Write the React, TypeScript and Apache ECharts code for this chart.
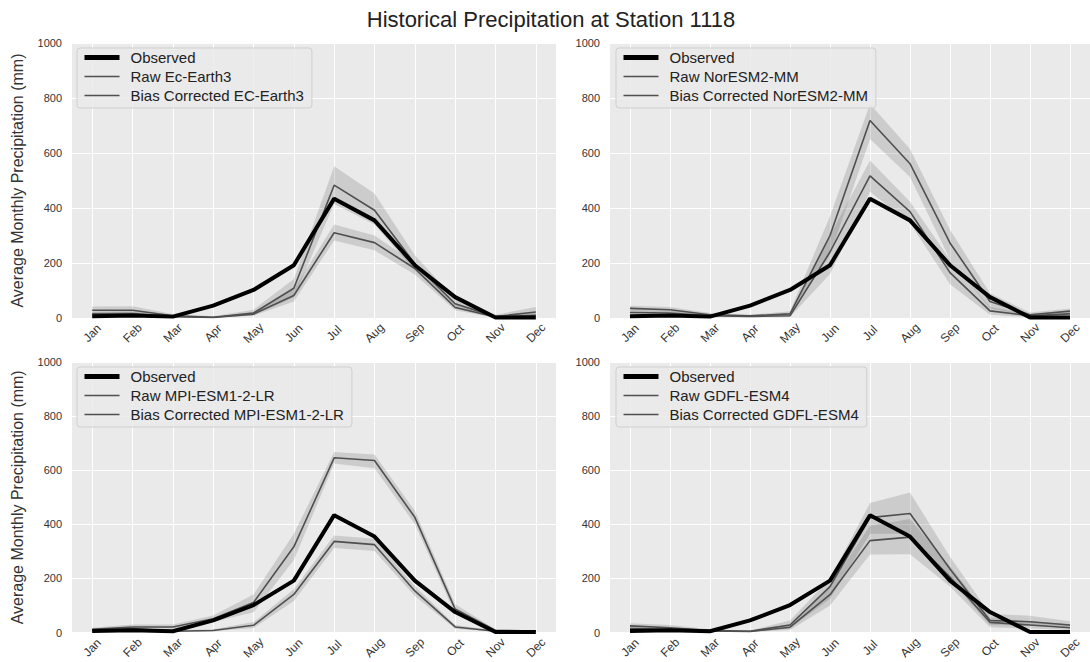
import React, { useEffect, useRef } from 'react';
import * as echarts from 'echarts';

const months = ['Jan', 'Feb', 'Mar', 'Apr', 'May', 'Jun', 'Jul', 'Aug', 'Sep', 'Oct', 'Nov', 'Dec'];
const yTicks = [0, 200, 400, 600, 800, 1000];
const chartTitle = 'Historical Precipitation at Station 1118';
const yTitle = 'Average Monthly Precipitation (mm)';

const observed = [6, 9, 5, 45, 102, 192, 434, 355, 192, 76, 2, 2];

// Panel 1: EC-Earth3
const rawEC = [28, 28, 8, 3, 18, 108, 483, 392, 197, 52, 5, 22];
const rawECLow = [18, 18, 3, 1, 10, 75, 415, 340, 172, 38, 2, 10];
const rawECHigh = [42, 43, 15, 6, 30, 142, 552, 453, 228, 68, 12, 40];
const biasEC = [15, 16, 5, 2, 14, 82, 310, 274, 180, 38, 4, 10];
const biasECLow = [8, 9, 2, 1, 8, 60, 282, 246, 158, 28, 1, 5];
const biasECHigh = [22, 24, 9, 4, 22, 105, 340, 300, 200, 50, 8, 18];

// Panel 2: NorESM2-MM
const rawNor = [35, 30, 12, 8, 15, 300, 718, 561, 273, 60, 12, 25];
const rawNorLow = [25, 22, 6, 4, 8, 230, 651, 513, 213, 35, 6, 15];
const rawNorHigh = [45, 40, 18, 12, 25, 370, 778, 615, 321, 90, 20, 35];
const biasNor = [20, 18, 8, 6, 8, 240, 517, 387, 165, 26, 8, 15];
const biasNorLow = [14, 12, 4, 3, 4, 160, 459, 345, 123, 12, 3, 8];
const biasNorHigh = [28, 26, 12, 10, 14, 300, 573, 423, 213, 40, 14, 22];

// Panel 3: MPI-ESM1-2-LR
const rawMPI = [12, 21, 21, 51, 111, 317, 646, 636, 426, 87, 8, 6];
const rawMPILow = [8, 15, 14, 39, 75, 268, 625, 607, 401, 69, 4, 3];
const rawMPIHigh = [18, 30, 30, 63, 141, 365, 667, 658, 450, 105, 12, 9];
const biasMPI = [8, 15, 5, 8, 27, 141, 337, 325, 154, 21, 5, 5];
const biasMPILow = [5, 10, 3, 5, 17, 117, 313, 302, 135, 14, 3, 3];
const biasMPIHigh = [12, 20, 8, 12, 39, 160, 359, 347, 172, 28, 8, 8];

// Panel 4: GDFL-ESM4
const rawGD = [25, 18, 8, 5, 28, 170, 425, 440, 235, 45, 40, 28];
const rawGDLow = [15, 10, 4, 2, 15, 125, 365, 365, 195, 28, 25, 18];
const rawGDHigh = [35, 28, 12, 8, 45, 200, 479, 518, 280, 70, 62, 42];
const biasGD = [15, 12, 6, 4, 20, 140, 340, 353, 205, 38, 28, 18];
const biasGDLow = [8, 7, 3, 2, 10, 100, 289, 290, 170, 20, 15, 10];
const biasGDHigh = [24, 18, 10, 7, 32, 172, 395, 420, 245, 55, 42, 30];

const rawNames = ['Raw Ec-Earth3', 'Raw NorESM2-MM', 'Raw MPI-ESM1-2-LR', 'Raw GDFL-ESM4'];
const biasNames = [
  'Bias Corrected EC-Earth3',
  'Bias Corrected NorESM2-MM',
  'Bias Corrected MPI-ESM1-2-LR',
  'Bias Corrected GDFL-ESM4',
];

const panels = [
  { raw: rawEC, rawLow: rawECLow, rawHigh: rawECHigh, bias: biasEC, biasLow: biasECLow, biasHigh: biasECHigh },
  { raw: rawNor, rawLow: rawNorLow, rawHigh: rawNorHigh, bias: biasNor, biasLow: biasNorLow, biasHigh: biasNorHigh },
  { raw: rawMPI, rawLow: rawMPILow, rawHigh: rawMPIHigh, bias: biasMPI, biasLow: biasMPILow, biasHigh: biasMPIHigh },
  { raw: rawGD, rawLow: rawGDLow, rawHigh: rawGDHigh, bias: biasGD, biasLow: biasGDLow, biasHigh: biasGDHigh },
];

const FONT = 'Liberation Sans, Arial, Helvetica, sans-serif';
const gridBoxes = [
  { left: 72, top: 43, width: 484, height: 275 },
  { left: 610, top: 43, width: 482, height: 275 },
  { left: 72, top: 362, width: 484, height: 276 },
  { left: 610, top: 362, width: 482, height: 276 },
];
const legendPos = [
  { left: 77, top: 48 },
  { left: 616, top: 48 },
  { left: 77, top: 367 },
  { left: 616, top: 367 },
];

const BAND = 'rgba(70,70,70,0.26)';
const LINE = '#4f4f4f';
const HIDDEN_ITEM = { color: 'rgba(0,0,0,0)', borderWidth: 0, opacity: 0 };

function buildOption() {
  const grid = gridBoxes.map((g) => ({
    ...g,
    show: true,
    backgroundColor: '#EAEAEA',
    borderWidth: 0,
    containLabel: false,
  }));

  const xAxis = gridBoxes.map((_, i) => ({
    type: 'category',
    gridIndex: i,
    data: months,
    boundaryGap: true,
    axisLine: { show: false },
    axisTick: { show: false },
    axisLabel: {
      rotate: 45,
      align: 'center',
      verticalAlign: 'middle',
      margin: 15,
      fontSize: 12,
      color: '#333',
      fontFamily: FONT,
      interval: 0,
    },
    splitLine: { show: true, alignWithLabel: true, lineStyle: { color: '#ffffff', width: 1 } },
  }));

  const yAxis = gridBoxes.map((_, i) => ({
    type: 'value',
    gridIndex: i,
    min: yTicks[0],
    max: yTicks[yTicks.length - 1],
    interval: yTicks[1] - yTicks[0],
    axisLine: { show: false },
    axisTick: { show: false },
    axisLabel: {
      fontSize: 11,
      color: '#333',
      margin: 10,
      fontFamily: FONT,
      formatter: (v: number) => String(v),
    },
    splitLine: { show: true, lineStyle: { color: '#ffffff', width: 1 } },
    name: i % 2 === 0 ? yTitle : '',
    nameLocation: 'middle',
    nameGap: 47,
    nameTextStyle: { fontSize: 16, color: '#333', fontFamily: FONT },
  }));

  const series: any[] = [];
  panels.forEach((p, i) => {
    const bands = [
      { key: 'raw', low: p.rawLow, high: p.rawHigh },
      { key: 'bias', low: p.biasLow, high: p.biasHigh },
    ];
    bands.forEach((b) => {
      const stack = `band-${b.key}-${i}`;
      series.push({
        type: 'line',
        name: `${stack}-low`,
        xAxisIndex: i,
        yAxisIndex: i,
        data: b.low,
        stack,
        symbol: 'none',
        lineStyle: { opacity: 0 },
        silent: true,
        z: 1,
      });
      series.push({
        type: 'line',
        name: `${stack}-span`,
        xAxisIndex: i,
        yAxisIndex: i,
        data: b.high.map((h, k) => h - b.low[k]),
        stack,
        symbol: 'none',
        lineStyle: { opacity: 0 },
        areaStyle: { color: BAND },
        silent: true,
        z: 1,
      });
    });
    series.push({
      type: 'line',
      name: rawNames[i],
      xAxisIndex: i,
      yAxisIndex: i,
      data: p.raw,
      symbol: 'none',
      lineStyle: { color: LINE, width: 1.6 },
      itemStyle: { color: LINE },
      silent: true,
      z: 2,
    });
    series.push({
      type: 'line',
      name: biasNames[i],
      xAxisIndex: i,
      yAxisIndex: i,
      data: p.bias,
      symbol: 'none',
      lineStyle: { color: LINE, width: 1.6 },
      itemStyle: { color: LINE },
      silent: true,
      z: 2,
    });
    series.push({
      type: 'line',
      name: 'Observed',
      xAxisIndex: i,
      yAxisIndex: i,
      data: observed,
      symbol: 'none',
      lineStyle: { color: '#000000', width: 4 },
      itemStyle: { color: '#000000' },
      silent: true,
      z: 3,
    });
  });

  const legend = legendPos.map((pos, i) => ({
    ...pos,
    orient: 'vertical',
    selectedMode: false,
    itemWidth: 35,
    itemHeight: 14,
    itemGap: 4,
    padding: [2, 8, 5, 5],
    backgroundColor: 'rgba(234,234,234,0.8)',
    borderColor: '#cfcfcf',
    borderWidth: 1,
    borderRadius: 3,
    itemStyle: HIDDEN_ITEM,
    textStyle: { fontSize: 15, color: '#222', fontFamily: FONT, padding: [0, 0, 0, 6] },
    data: [
      { name: 'Observed', itemStyle: HIDDEN_ITEM, lineStyle: { width: 5, color: '#000' } },
      { name: rawNames[i], itemStyle: HIDDEN_ITEM, lineStyle: { width: 1.5, color: LINE } },
      { name: biasNames[i], itemStyle: HIDDEN_ITEM, lineStyle: { width: 1.5, color: LINE } },
    ],
  }));

  return {
    animation: false,
    backgroundColor: '#ffffff',
    textStyle: { fontFamily: FONT },
    grid,
    xAxis,
    yAxis,
    legend,
    series,
    graphic: [
      {
        type: 'text',
        x: 551,
        y: 19,
        style: {
          text: chartTitle,
          fontSize: 22,
          fontFamily: FONT,
          fill: '#222',
          align: 'center',
          verticalAlign: 'middle',
        },
      },
    ],
  };
}

export default function App() {
  const ref = useRef<HTMLDivElement>(null);
  useEffect(() => {
    document.body.style.margin = '0';
    if (!ref.current) return;
    const chart = echarts.init(ref.current, undefined, { renderer: 'svg' });
    chart.setOption(buildOption() as any);
    return () => chart.dispose();
  }, []);
  return (
    <div
      ref={ref}
      style={{ position: 'fixed', left: 0, top: 0, width: 1090, height: 662 }}
    />
  );
}
